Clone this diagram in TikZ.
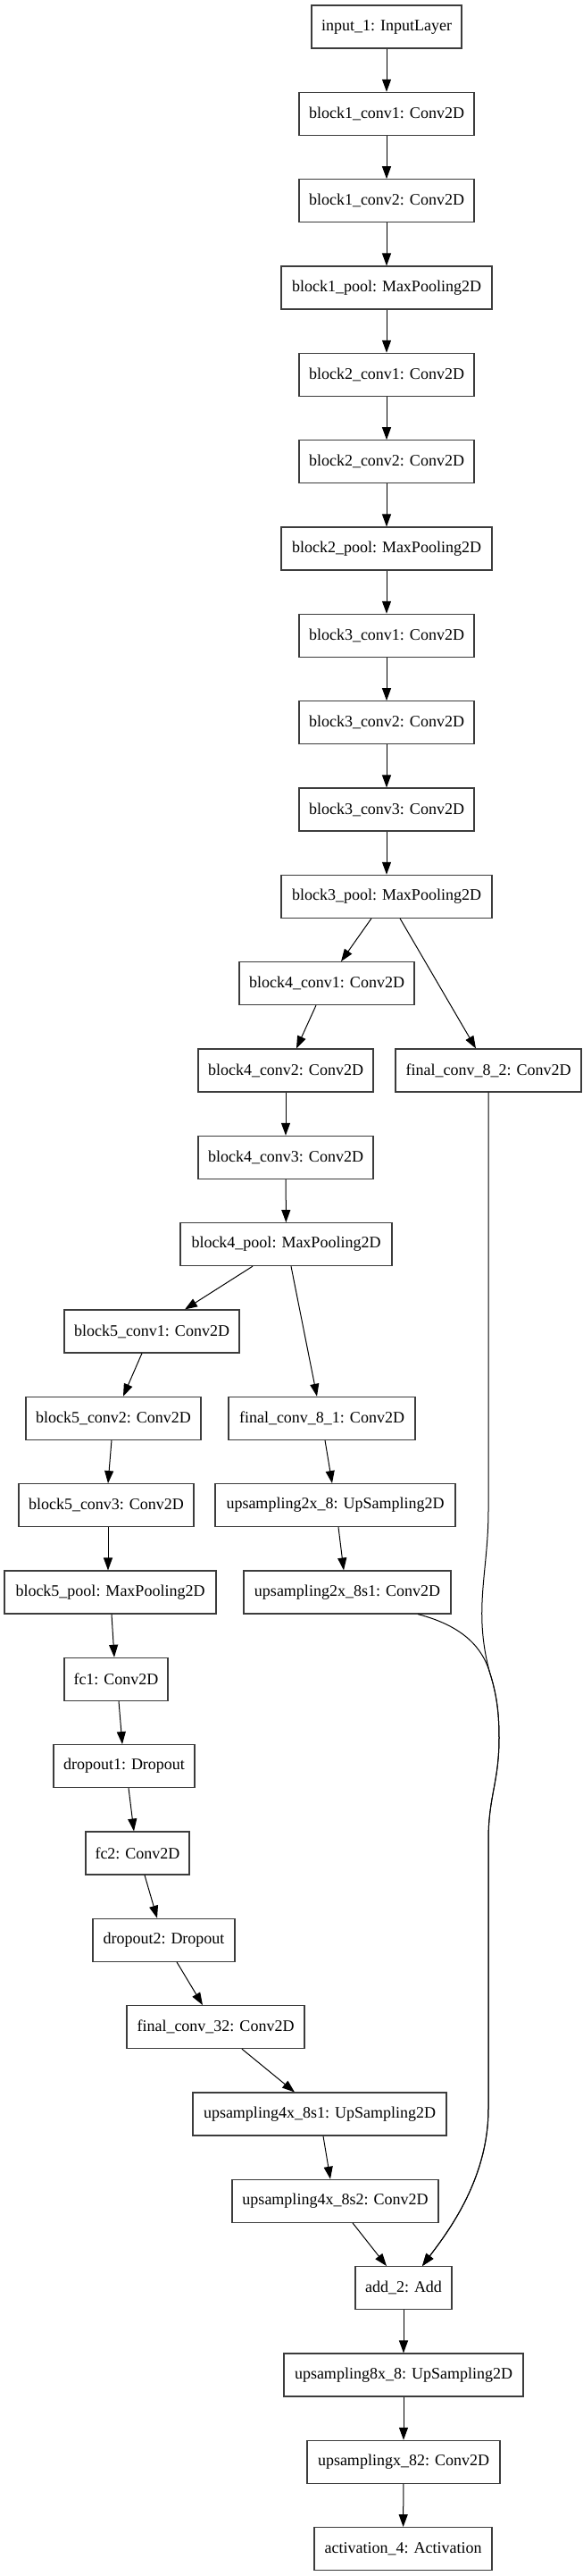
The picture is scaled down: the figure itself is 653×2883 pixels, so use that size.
\documentclass[tikz,border=0pt]{standalone}
\usepackage{fontspec}
\setmainfont{Liberation Serif}
\usetikzlibrary{arrows.meta}
\definecolor{boxline}{RGB}{60,60,60}
\tikzset{
  layer/.style={draw=boxline, line width=1.1pt, fill=white, minimum height=48pt, inner sep=0pt,
    font=\fontsize{18pt}{20pt}\selectfont},
  conn/.style={line width=1pt, -{Triangle[length=14pt,width=10pt]}}
}
\begin{document}
\begin{tikzpicture}[x=1pt,y=-1pt]
\useasboundingbox (0,0) rectangle (653,2883);
% main column
\node[layer, minimum width=168pt] (in1) at (433,30) {input\_1: InputLayer};
\node[layer, minimum width=196pt] (b1c1) at (433,127.3) {block1\_conv1: Conv2D};
\node[layer, minimum width=196pt] (b1c2) at (433,224.7) {block1\_conv2: Conv2D};
\node[layer, minimum width=236pt] (b1p) at (433,322) {block1\_pool: MaxPooling2D};
\node[layer, minimum width=196pt] (b2c1) at (433,419.3) {block2\_conv1: Conv2D};
\node[layer, minimum width=196pt] (b2c2) at (433,516.7) {block2\_conv2: Conv2D};
\node[layer, minimum width=236pt] (b2p) at (433,614) {block2\_pool: MaxPooling2D};
\node[layer, minimum width=196pt] (b3c1) at (433,711.3) {block3\_conv1: Conv2D};
\node[layer, minimum width=196pt] (b3c2) at (433,808.7) {block3\_conv2: Conv2D};
\node[layer, minimum width=196pt] (b3c3) at (433,906) {block3\_conv3: Conv2D};
\node[layer, minimum width=236pt] (b3p) at (433,1003.3) {block3\_pool: MaxPooling2D};
\node[layer, minimum width=196pt] (b4c1) at (366,1100.6) {block4\_conv1: Conv2D};
\node[layer, minimum width=196pt] (b4c2) at (320,1198) {block4\_conv2: Conv2D};
\node[layer, minimum width=208pt] (fc82) at (547,1198) {final\_conv\_8\_2: Conv2D};
\node[layer, minimum width=196pt] (b4c3) at (320,1295.3) {block4\_conv3: Conv2D};
\node[layer, minimum width=237pt] (b4p) at (320.5,1392.6) {block4\_pool: MaxPooling2D};
\node[layer, minimum width=196pt] (b5c1) at (170,1490) {block5\_conv1: Conv2D};
\node[layer, minimum width=196pt] (b5c2) at (127,1587.3) {block5\_conv2: Conv2D};
\node[layer, minimum width=209pt] (fc81) at (360.5,1587.3) {final\_conv\_8\_1: Conv2D};
\node[layer, minimum width=196pt] (b5c3) at (119,1684.6) {block5\_conv3: Conv2D};
\node[layer, minimum width=269pt] (up2a) at (375.5,1684.6) {upsampling2x\_8: UpSampling2D};
\node[layer, minimum width=237pt] (b5p) at (123.5,1782) {block5\_pool: MaxPooling2D};
\node[layer, minimum width=232pt] (up2b) at (389,1782) {upsampling2x\_8s1: Conv2D};
\node[layer, minimum width=116pt] (fc1) at (130,1879.3) {fc1: Conv2D};
\node[layer, minimum width=158pt] (do1) at (139,1976.6) {dropout1: Dropout};
\node[layer, minimum width=116pt] (fc2) at (154,2074) {fc2: Conv2D};
\node[layer, minimum width=159pt] (do2) at (183.5,2171.3) {dropout2: Dropout};
\node[layer, minimum width=199pt] (fc32) at (241.5,2268.6) {final\_conv\_32: Conv2D};
\node[layer, minimum width=284pt] (up4a) at (358,2366) {upsampling4x\_8s1: UpSampling2D};
\node[layer, minimum width=231pt] (up4b) at (375.5,2463.3) {upsampling4x\_8s2: Conv2D};
\node[layer, minimum width=108pt] (add2) at (452,2560.6) {add\_2: Add};
\node[layer, minimum width=268pt] (up8) at (452,2658) {upsampling8x\_8: UpSampling2D};
\node[layer, minimum width=216pt] (upx) at (452,2755.3) {upsamplingx\_82: Conv2D};
\node[layer, minimum width=199pt] (act) at (451.5,2852.6) {activation\_4: Activation};
% straight connectors
\draw[conn] (in1) -- (b1c1);
\draw[conn] (b1c1) -- (b1c2);
\draw[conn] (b1c2) -- (b1p);
\draw[conn] (b1p) -- (b2c1);
\draw[conn] (b2c1) -- (b2c2);
\draw[conn] (b2c2) -- (b2p);
\draw[conn] (b2p) -- (b3c1);
\draw[conn] (b3c1) -- (b3c2);
\draw[conn] (b3c2) -- (b3c3);
\draw[conn] (b3c3) -- (b3p);
\draw[conn] ([xshift=-17pt]b3p.south) -- ([xshift=16pt]b4c1.north);
\draw[conn] ([xshift=15pt]b3p.south) -- ([xshift=-14pt]fc82.north);
\draw[conn] ([xshift=-12pt]b4c1.south) -- ([xshift=12pt]b4c2.north);
\draw[conn] (b4c2) -- (b4c3);
\draw[conn] (b4c3) -- (b4p);
\draw[conn] ([xshift=-37.5pt]b4p.south) -- ([xshift=37pt]b5c1.north);
\draw[conn] ([xshift=5.5pt]b4p.south) -- ([xshift=-5.5pt]fc81.north);
\draw[conn] ([xshift=-11pt]b5c1.south) -- ([xshift=11pt]b5c2.north);
\draw[conn] ([xshift=-2pt]b5c2.south) -- ([xshift=2pt]b5c3.north);
\draw[conn] ([xshift=3.5pt]fc81.south) -- ([xshift=-3.5pt]up2a.north);
\draw[conn] ([xshift=2pt]b5c3.south) -- ([xshift=-2.5pt]b5p.north);
\draw[conn] ([xshift=3.5pt]up2a.south) -- ([xshift=-4pt]up2b.north);
\draw[conn] ([xshift=1.5pt]b5p.south) -- ([xshift=-2pt]fc1.north);
\draw[conn] ([xshift=3pt]fc1.south) -- ([xshift=-2pt]do1.north);
\draw[conn] ([xshift=5pt]do1.south) -- ([xshift=-4pt]fc2.north);
\draw[conn] ([xshift=8pt]fc2.south) -- ([xshift=-7.5pt]do2.north);
\draw[conn] ([xshift=14.5pt]do2.south) -- ([xshift=-14.5pt]fc32.north);
\draw[conn] ([xshift=29.5pt]fc32.south) -- ([xshift=-28pt]up4a.north);
\draw[conn] ([xshift=4pt]up4a.south) -- ([xshift=-5.5pt]up4b.north);
\draw[conn] ([xshift=19.5pt]up4b.south) -- ([xshift=-19pt]add2.north);
\draw[conn] (add2) -- (up8);
\draw[conn] (up8) -- (upx);
\draw[conn] (upx) -- (act);
% long curved connectors into add_2
\coordinate (m) at (548,1870);
\draw[conn] (fc82.south) -- (547,1690) .. controls (547,1760) and (530,1800) .. (m)
  .. controls (556,1895) and (559,1915) .. (559,1945)
  .. controls (559,1995) and (547,2010) .. (547,2060) -- (547,2360)
  .. controls (547,2440) and (500,2500) .. ([xshift=21pt]add2.north);
\draw[conn] ([xshift=79pt]up2b.south) .. controls (520,1820) and (540,1845) .. (m)
  .. controls (556,1895) and (559,1915) .. (559,1945)
  .. controls (559,1995) and (547,2010) .. (547,2060) -- (547,2360)
  .. controls (547,2440) and (500,2500) .. ([xshift=21pt]add2.north);
\end{tikzpicture}
\end{document}
